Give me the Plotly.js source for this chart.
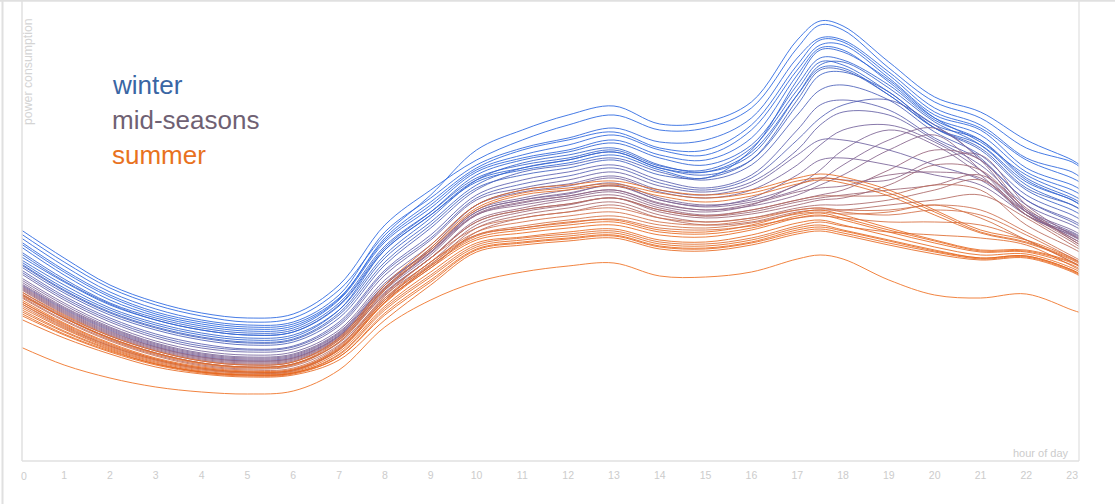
<!DOCTYPE html>
<html>
<head>
<meta charset="utf-8">
<script src="https://cdn.plot.ly/plotly-3.0.1.min.js"></script>
<style>
html,body{margin:0;padding:0;background:#fff;}
#chart{width:1115px;height:504px;}
</style>
</head>
<body>
<div id="chart"></div>
<script>
// hour of day sample points
const HOURS = [0,1,2,3,4,5,6,7,8,9,10,11,12,13,14,15,16,17,17.5,18,19,20,21,22,23,23.2];
const TICK_HOURS = [1,2,3,4,5,6,7,8,9,10,11,12,13,14,15,16,17,18,19,20,21,22,23];

// power consumption (arbitrary units), one array per day
const W1 = [229,199,173,156,145,139,143,171,226,266,311,331,346,355,337,339,359,421,440,435,399,364,349,321,301,295];
const W2 = [233,203,176,159,148,143,147,176,236,271,301,321,336,346,331,333,353,413,436,431,393,359,343,313,299,293];
const W3 = [225,195,169,152,141,136,139,166,229,263,296,313,323,333,319,321,343,403,423,421,389,353,336,303,289,283];
const W4 = [221,191,166,149,139,134,137,163,221,256,291,306,316,326,311,306,331,391,416,416,383,346,331,293,276,271];
const W5 = [206,179,156,141,131,126,129,156,213,249,286,301,309,318,303,296,316,376,403,401,376,341,321,281,261,256];
const W6 = [203,176,153,138,128,123,126,151,206,243,281,298,306,313,296,289,306,366,396,399,373,339,316,276,256,251];
const W7 = [199,171,149,134,124,119,122,148,203,239,276,293,301,309,293,286,301,356,386,389,369,333,311,271,251,246];
const W8 = [201,173,151,136,126,121,124,151,211,246,279,291,298,306,291,283,311,381,411,409,381,343,319,286,266,261];
const W9 = [196,168,146,131,121,116,119,143,196,233,271,289,296,303,289,281,296,346,371,376,361,329,306,266,246,241];
const W10 = [216,186,161,145,135,130,133,161,219,253,289,303,311,321,306,301,323,386,413,411,379,343,326,289,271,266];
const W11 = [211,182,158,143,133,128,131,158,215,249,283,296,303,311,295,291,313,371,399,396,369,336,321,283,263,258];
const W12 = [198,170,148,133,123,118,121,146,199,236,273,286,293,301,286,283,301,361,391,391,366,333,313,273,256,251];
const W13 = [209,180,157,141,131,126,129,155,211,246,281,293,301,309,293,289,309,366,393,393,366,333,316,279,261,255];
const W14 = [219,189,164,147,137,132,135,162,223,259,293,311,321,329,313,311,336,396,421,419,386,349,333,301,283,278];

const M1 = [193,165,143,127,117,112,115,139,191,226,266,281,289,296,281,273,286,331,356,361,351,323,301,261,241,236];
const M2 = [189,161,139,123,113,109,112,135,186,221,261,273,281,289,275,269,279,311,336,349,346,321,296,256,236,231];
const M3 = [185,158,136,120,110,106,109,131,181,216,256,269,275,283,269,263,271,296,316,331,336,319,291,251,231,226];
const M4 = [181,154,133,117,107,103,106,128,176,211,251,263,271,278,263,256,261,276,291,311,331,316,286,246,228,223];
const M5 = [177,151,130,114,104,100,103,125,171,206,246,258,265,271,257,251,255,266,276,286,311,326,291,246,226,221];
const M6 = [174,148,127,112,102,98,101,123,169,203,241,253,261,266,253,246,251,261,266,271,291,311,301,251,223,218];
const M7 = [178,152,131,115,105,101,104,126,176,213,256,271,277,285,271,266,276,306,321,321,311,296,281,249,229,224];
const M8 = [171,145,125,110,100,96,99,121,166,199,236,249,256,263,249,243,247,256,261,263,276,296,291,249,221,215];
const M9 = [183,156,134,118,108,104,107,129,178,211,249,261,267,276,261,255,263,286,301,303,296,286,276,246,225,220];
const M10 = [169,143,123,108,98,94,97,118,163,196,233,246,253,259,246,239,243,253,256,256,261,271,281,246,219,213];
const M11 = [166,141,121,106,96,92,95,116,161,193,229,243,249,256,243,236,239,249,251,251,256,261,266,243,216,211];
const M12 = [175,149,128,113,103,99,102,124,172,208,246,256,263,269,255,249,256,276,283,281,281,301,306,256,226,221];
const M13 = [173,147,126,111,101,97,100,122,168,203,239,251,257,263,251,245,249,259,263,266,271,276,286,253,221,216];
const M14 = [191,163,141,125,115,111,114,137,189,223,263,277,285,293,278,271,283,321,343,356,361,336,303,261,239,234];
const M15 = [179,153,132,116,106,102,105,127,174,209,249,261,268,275,261,254,259,271,281,296,321,333,301,249,227,222];
const M16 = [168,143,123,108,98,94,97,119,167,203,239,251,257,263,251,245,251,261,265,265,266,276,271,236,213,208];
const M17 = [176,150,129,114,104,100,103,125,173,209,247,259,265,271,258,251,257,269,273,275,286,289,283,249,223,218];

const S1 = [171,146,125,110,100,96,99,123,176,216,256,271,276,280,271,266,271,283,287,284,271,251,231,221,203,198];
const S2 = [167,143,122,107,97,93,96,119,171,211,251,266,271,275,265,259,265,277,281,278,265,246,228,218,201,196];
const S3 = [163,138,118,103,94,90,92,113,161,199,226,233,239,241,231,229,236,248,251,246,233,221,211,211,199,194];
const S4 = [159,135,115,101,92,89,91,111,158,193,221,228,233,236,226,224,231,243,246,241,229,218,209,209,196,191];
const S5 = [155,132,113,99,90,87,89,109,155,189,218,224,229,232,221,219,226,238,241,236,225,214,206,207,193,188];
const S6 = [151,129,111,97,89,86,88,106,151,184,214,221,225,228,217,215,221,233,236,231,221,211,203,205,191,186];
const S7 = [147,126,109,96,88,85,87,104,146,179,211,218,222,225,214,212,218,229,232,228,218,209,202,204,190,185];
const S8 = [143,123,107,94,87,84,86,101,141,176,209,216,220,223,212,210,216,227,230,226,216,207,201,203,189,184];
const S9 = [161,136,116,102,93,89,91,114,163,199,229,239,245,249,239,236,241,251,253,249,246,251,246,226,203,198];
const S10 = [157,133,114,100,91,88,90,111,159,195,225,233,238,242,233,231,235,243,245,243,239,239,236,221,199,194];
const S11 = [165,140,120,105,95,91,93,115,165,203,233,243,249,253,243,239,243,251,253,251,251,256,251,229,205,200];
const S12 = [153,130,112,98,89,86,88,107,153,186,216,223,227,230,219,217,223,235,239,235,229,226,223,216,195,190];
const S13 = [169,144,123,108,98,94,97,121,173,213,253,268,273,277,268,263,268,280,283,281,268,249,229,219,202,197];
const S14 = [161,137,117,102,93,89,91,112,159,195,223,231,236,239,229,227,233,245,248,243,231,220,210,210,198,193];
const S15 = [159,134,115,101,92,88,90,112,161,197,226,235,241,245,236,233,238,247,249,247,249,256,243,221,199,194];
const S16 = [149,127,110,97,89,86,88,104,148,181,212,219,223,226,215,213,219,231,234,230,220,210,203,205,191,186];
const S17 = [115,96,83,74,69,67,70,91,134,161,179,189,195,198,185,184,189,202,206,202,181,166,163,167,151,148];

const WINTER = [W1,W2,W3,W4,W5,W6,W7,W8,W9,W10,W11,W12,W13,W14];
const MID = [M1,M2,M3,M4,M5,M6,M7,M8,M9,M10,M11,M12,M13,M14,M15,M16,M17];
const SUMMER = [S1,S2,S3,S4,S5,S6,S7,S8,S9,S10,S11,S12,S13,S14,S15,S16,S17];

const LEGEND_LABELS = ['winter','mid-seasons','summer'];

// styles
const WINTER_COLORS = ['rgba(38,100,225,0.85)','rgba(38,100,225,0.85)','rgba(42,100,220,0.85)','rgba(42,100,220,0.85)',
  'rgba(45,98,212,0.85)','rgba(50,98,205,0.85)','rgba(60,96,198,0.85)','rgba(45,98,212,0.85)',
  'rgba(75,95,185,0.85)','rgba(42,100,220,0.85)','rgba(50,98,208,0.85)','rgba(65,96,192,0.85)',
  'rgba(48,99,210,0.85)','rgba(40,100,222,0.85)'];
const MID_COLORS = ['rgba(90,95,175,0.85)','rgba(100,95,165,0.85)','rgba(115,98,155,0.85)','rgba(125,100,148,0.85)',
  'rgba(135,100,140,0.85)','rgba(150,100,125,0.85)','rgba(110,98,160,0.85)','rgba(160,102,115,0.85)',
  'rgba(120,98,150,0.85)','rgba(170,104,105,0.85)','rgba(180,104,95,0.85)','rgba(140,100,135,0.85)','rgba(160,102,115,0.85)',
  'rgba(85,96,180,0.85)','rgba(130,100,145,0.85)','rgba(185,106,90,0.85)','rgba(145,100,130,0.85)'];
const SUMMER_COLORS = ['rgba(228,104,35,0.85)','rgba(225,106,40,0.85)','rgba(232,102,28,0.85)','rgba(232,102,28,0.85)',
  'rgba(230,103,30,0.85)','rgba(228,104,32,0.85)','rgba(232,102,28,0.85)','rgba(230,103,30,0.85)',
  'rgba(210,110,70,0.85)','rgba(215,108,60,0.85)','rgba(205,110,78,0.85)','rgba(222,106,45,0.85)',
  'rgba(226,105,38,0.85)','rgba(230,103,30,0.85)','rgba(212,110,65,0.85)','rgba(232,102,28,0.85)','rgba(240,125,55,0.95)'];

const traces = [];
function addGroup(group, colors){
  group.forEach((vals, i) => {
    traces.push({
      type:'scatter', mode:'lines', x:HOURS, y:vals,
      line:{shape:'spline', smoothing:1, width:1, color:colors[i]},
      hoverinfo:'skip', showlegend:false
    });
  });
}
addGroup(WINTER, WINTER_COLORS);
addGroup(MID, MID_COLORS);
addGroup(SUMMER, SUMMER_COLORS);

const W = 1115, H = 504, L = 22, R = 36, T = 1, B = 43;
const PW = W - L - R, PH = H - T - B;
const px = v => (v - L) / PW;
const py = v => (H - B - v) / PH;

const frame = '#e0e0e0';
const shapes = [
  {type:'line', xref:'paper', yref:'paper', x0:0, x1:0, y0:0, y1:1, line:{color:frame, width:1.5}},
  {type:'line', xref:'paper', yref:'paper', x0:0, x1:1, y0:0, y1:0, line:{color:frame, width:1.5}},
  {type:'line', xref:'paper', yref:'paper', x0:1, x1:1, y0:0, y1:1, line:{color:frame, width:1.2}},
  {type:'line', xref:'paper', yref:'paper', x0:px(0), x1:px(W), y0:py(0.8), y1:py(0.8), line:{color:frame, width:2}},
  {type:'line', xref:'paper', yref:'paper', x0:px(2.5), x1:px(2.5), y0:py(0), y1:py(H), line:{color:frame, width:2}}
];

const legendColors = ['#3a66a4','#6f6173','#e8721e'];
const annotations = LEGEND_LABELS.map((t, i) => ({
  text:t, xref:'paper', yref:'paper', x:px(110), y:py(85 + i*35), xanchor:'left', yanchor:'middle',
  showarrow:false, font:{family:'Liberation Sans, Arial, sans-serif', size:26, color:legendColors[i]}
}));
annotations.push({
  text:'power consumption', xref:'paper', yref:'paper', x:px(28), y:py(72), xanchor:'center', yanchor:'middle',
  textangle:-90, showarrow:false, font:{family:'Liberation Sans, Arial, sans-serif', size:12.3, color:'#d4d4d4'}
});
annotations.push({
  text:'hour of day', xref:'paper', yref:'paper', x:px(1071), y:py(453), xanchor:'right', yanchor:'middle',
  showarrow:false, font:{family:'Liberation Sans, Arial, sans-serif', size:11, color:'#cccccc'}
});
annotations.push({
  text:'0', xref:'paper', yref:'paper', x:px(24), y:py(476), xanchor:'center', yanchor:'middle',
  showarrow:false, font:{family:'Liberation Sans, Arial, sans-serif', size:10.5, color:'#cccccc'}
});

const layout = {
  width:W, height:H,
  margin:{l:L, r:R, t:T, b:B, pad:0},
  paper_bgcolor:'#fff', plot_bgcolor:'#fff',
  showlegend:false,
  xaxis:{range:[0.08, 23.15], tickvals:TICK_HOURS, ticktext:TICK_HOURS.map(String),
    showgrid:false, zeroline:false, showline:false, ticks:'', ticklabelstandoff:6,
    tickfont:{family:'Liberation Sans, Arial, sans-serif', size:10.5, color:'#cccccc'}},
  yaxis:{range:[0, 460], showgrid:false, zeroline:false, showline:false, showticklabels:false, ticks:''},
  shapes:shapes, annotations:annotations
};

Plotly.newPlot('chart', traces, layout, {staticPlot:true, displayModeBar:false});
</script>
</body>
</html>
